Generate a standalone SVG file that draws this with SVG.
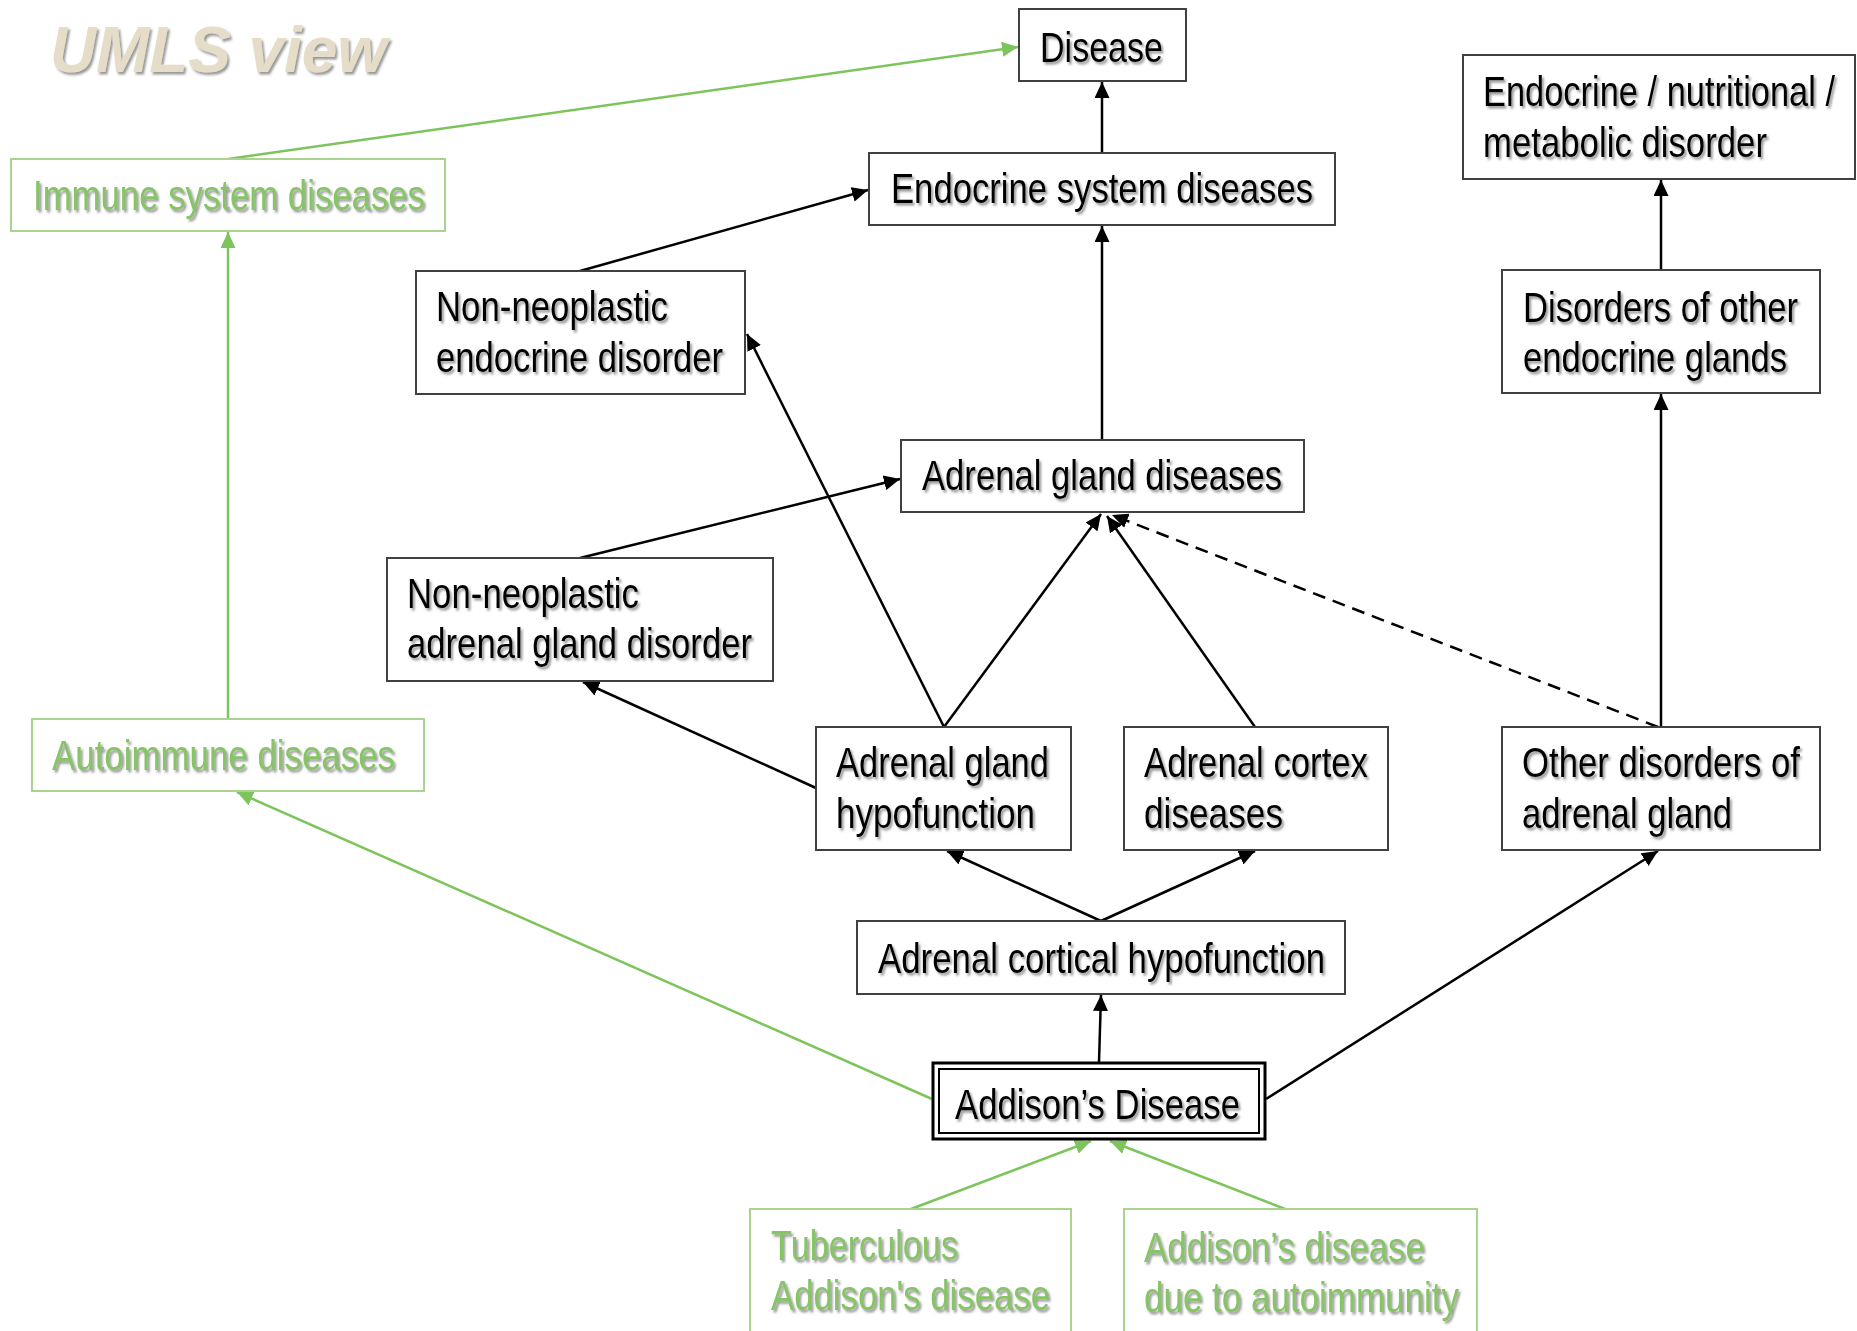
<svg xmlns="http://www.w3.org/2000/svg" width="1857" height="1331" viewBox="0 0 1857 1331">
  <defs>
    <filter id="txtShadow" x="-5%" y="-20%" width="110%" height="150%">
      <feDropShadow dx="2" dy="2.5" stdDeviation="1.3" flood-color="#555" flood-opacity="0.6"/>
    </filter>
    <marker id="arrowBlack" markerUnits="userSpaceOnUse" markerWidth="17" markerHeight="15" refX="16" refY="7.5" orient="auto">
      <path d="M0,0 L16,7.5 L0,15 z" fill="#000"/>
    </marker>
    <marker id="arrowGreen" markerUnits="userSpaceOnUse" markerWidth="17" markerHeight="15" refX="16" refY="7.5" orient="auto">
      <path d="M0,0 L16,7.5 L0,15 z" fill="#7DC45C"/>
    </marker>
  </defs>
  <style>
    .box { fill: #fff; stroke: #404040; stroke-width: 2; }
    .gbox { fill: #fff; stroke: #A9D490; stroke-width: 2; }
    .lbl { font-family: "Liberation Sans", Arial, sans-serif; font-size: 42px; fill: #000; filter: url(#txtShadow); }
    .glbl { font-family: "Liberation Sans", Arial, sans-serif; font-size: 42px; fill: #86C466; filter: url(#txtShadow); }
    .title { font-family: "Liberation Sans", Arial, sans-serif; font-size: 64px; font-weight: bold; font-style: italic; fill: #E6DDC8; filter: url(#txtShadow); }
    .edge { fill: none; stroke: #000; stroke-width: 2.5; marker-end: url(#arrowBlack); }
    .dashed { stroke-dasharray: 13 8; }
    .gedge { fill: none; stroke: #7DC45C; stroke-width: 2.5; marker-end: url(#arrowGreen); }
  </style>

  <rect width="1857" height="1331" fill="#fff"/>

  <text class="title" x="50" y="72" textLength="337" lengthAdjust="spacingAndGlyphs">UMLS view</text>

  <!-- connectors -->
  <g id="connectors">
    <line class="gedge" x1="228" y1="159" x2="1018" y2="47"/>
    <line class="gedge" x1="228" y1="719" x2="228" y2="232"/>
    <line class="gedge" x1="932" y1="1099" x2="237" y2="792"/>
    <line class="gedge" x1="911" y1="1209" x2="1091" y2="1141"/>
    <line class="gedge" x1="1285" y1="1209" x2="1110" y2="1141"/>

    <line class="edge" x1="1102" y1="153" x2="1102" y2="82"/>
    <line class="edge" x1="1102" y1="440" x2="1102" y2="226"/>
    <line class="edge" x1="580" y1="271" x2="868" y2="190"/>
    <line class="edge" x1="580" y1="558" x2="900" y2="479"/>
    <line class="edge" x1="944" y1="727" x2="1101" y2="514"/>
    <line class="edge" x1="944" y1="727" x2="747" y2="334"/>
    <line class="edge" x1="816" y1="788" x2="583" y2="682"/>
    <line class="edge" x1="1255" y1="727" x2="1107" y2="516"/>
    <line class="edge dashed" x1="1658" y1="727" x2="1112" y2="515"/>
    <line class="edge" x1="1661" y1="727" x2="1661" y2="394"/>
    <line class="edge" x1="1661" y1="270" x2="1661" y2="180"/>
    <line class="edge" x1="1101" y1="921" x2="947" y2="851"/>
    <line class="edge" x1="1101" y1="921" x2="1255" y2="851"/>
    <line class="edge" x1="1099" y1="1062" x2="1101" y2="995"/>
    <line class="edge" x1="1266" y1="1099" x2="1658" y2="851"/>
  </g>

  <!-- nodes -->
  <g id="disease">
    <rect class="box" x="1019" y="9" width="167" height="72"/>
    <text class="lbl" x="1040" y="62" textLength="123" lengthAdjust="spacingAndGlyphs">Disease</text>
  </g>

  <g id="endocrine-system-diseases">
    <rect class="box" x="869" y="153" width="466" height="72"/>
    <text class="lbl" x="891" y="203" textLength="422" lengthAdjust="spacingAndGlyphs">Endocrine system diseases</text>
  </g>

  <g id="endocrine-nutritional-metabolic">
    <rect class="box" x="1463" y="55" width="392" height="124"/>
    <text class="lbl" x="1483" y="106" textLength="352" lengthAdjust="spacingAndGlyphs">Endocrine / nutritional /</text>
    <text class="lbl" x="1483" y="157" textLength="284" lengthAdjust="spacingAndGlyphs">metabolic disorder</text>
  </g>

  <g id="immune-system-diseases">
    <rect class="gbox" x="11" y="159" width="434" height="72"/>
    <text class="glbl" x="33" y="210" textLength="392" lengthAdjust="spacingAndGlyphs">Immune system diseases</text>
  </g>

  <g id="non-neoplastic-endocrine">
    <rect class="box" x="416" y="271" width="329" height="123"/>
    <text class="lbl" x="436" y="321" textLength="232" lengthAdjust="spacingAndGlyphs">Non-neoplastic</text>
    <text class="lbl" x="436" y="372" textLength="287" lengthAdjust="spacingAndGlyphs">endocrine disorder</text>
  </g>

  <g id="disorders-other-endocrine">
    <rect class="box" x="1502" y="270" width="318" height="123"/>
    <text class="lbl" x="1523" y="322" textLength="275" lengthAdjust="spacingAndGlyphs">Disorders of other</text>
    <text class="lbl" x="1523" y="372" textLength="264" lengthAdjust="spacingAndGlyphs">endocrine glands</text>
  </g>

  <g id="adrenal-gland-diseases">
    <rect class="box" x="901" y="440" width="403" height="72"/>
    <text class="lbl" x="922" y="490" textLength="360" lengthAdjust="spacingAndGlyphs">Adrenal gland diseases</text>
  </g>

  <g id="non-neoplastic-adrenal">
    <rect class="box" x="387" y="558" width="386" height="123"/>
    <text class="lbl" x="407" y="608" textLength="232" lengthAdjust="spacingAndGlyphs">Non-neoplastic</text>
    <text class="lbl" x="407" y="658" textLength="345" lengthAdjust="spacingAndGlyphs">adrenal gland disorder</text>
  </g>

  <g id="autoimmune-diseases">
    <rect class="gbox" x="32" y="719" width="392" height="72"/>
    <text class="glbl" x="52" y="770" textLength="343" lengthAdjust="spacingAndGlyphs">Autoimmune diseases</text>
  </g>

  <g id="adrenal-gland-hypofunction">
    <rect class="box" x="816" y="727" width="255" height="123"/>
    <text class="lbl" x="836" y="777" textLength="213" lengthAdjust="spacingAndGlyphs">Adrenal gland</text>
    <text class="lbl" x="836" y="828" textLength="199" lengthAdjust="spacingAndGlyphs">hypofunction</text>
  </g>

  <g id="adrenal-cortex-diseases">
    <rect class="box" x="1124" y="727" width="264" height="123"/>
    <text class="lbl" x="1144" y="777" textLength="224" lengthAdjust="spacingAndGlyphs">Adrenal cortex</text>
    <text class="lbl" x="1144" y="828" textLength="139" lengthAdjust="spacingAndGlyphs">diseases</text>
  </g>

  <g id="other-adrenal-disorders">
    <rect class="box" x="1502" y="727" width="318" height="123"/>
    <text class="lbl" x="1522" y="777" textLength="278" lengthAdjust="spacingAndGlyphs">Other disorders of</text>
    <text class="lbl" x="1522" y="828" textLength="210" lengthAdjust="spacingAndGlyphs">adrenal gland</text>
  </g>

  <g id="adrenal-cortical-hypofunction">
    <rect class="box" x="857" y="921" width="488" height="73"/>
    <text class="lbl" x="878" y="973" textLength="447" lengthAdjust="spacingAndGlyphs">Adrenal cortical hypofunction</text>
  </g>

  <g id="addisons-disease">
    <rect x="933" y="1063" width="332" height="76" fill="#fff" stroke="#000" stroke-width="3"/>
    <rect x="939" y="1069" width="320" height="64" fill="none" stroke="#000" stroke-width="2"/>
    <text class="lbl" x="955" y="1119" textLength="285" lengthAdjust="spacingAndGlyphs">Addison’s Disease</text>
  </g>

  <g id="tuberculous-addisons">
    <rect class="gbox" x="750" y="1209" width="321" height="140"/>
    <text class="glbl" x="771" y="1260" textLength="187" lengthAdjust="spacingAndGlyphs">Tuberculous</text>
    <text class="glbl" x="771" y="1310" textLength="279" lengthAdjust="spacingAndGlyphs">Addison's disease</text>
  </g>

  <g id="addisons-autoimmunity">
    <rect class="gbox" x="1124" y="1209" width="353" height="140"/>
    <text class="glbl" x="1144" y="1262" textLength="281" lengthAdjust="spacingAndGlyphs">Addison’s disease</text>
    <text class="glbl" x="1144" y="1312" textLength="315" lengthAdjust="spacingAndGlyphs">due to autoimmunity</text>
  </g>
</svg>
